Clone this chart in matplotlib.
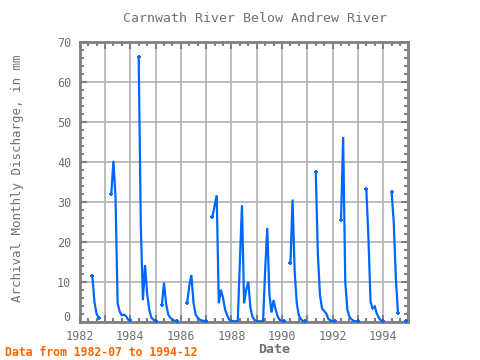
import matplotlib
matplotlib.use("Agg")
import matplotlib.pyplot as plt
from matplotlib.ticker import MultipleLocator, FuncFormatter
from matplotlib.transforms import blended_transform_factory

title = "Carnwath River Below Andrew River"
y_label = "Archival Monthly Discharge, in mm"
x_label = "Date"
note = "Data from 1982-07 to 1994-12"

# runs of consecutive monthly values (first month of each run)
run_starts = ["1982-07", "1983-04", "1984-05", "1985-04", "1986-04", "1987-04",
              "1990-05", "1991-05", "1992-05", "1993-05", "1994-05", "1994-12"]
run_1982 = [11.5, 5.0, 2.0, 1.0]
run_1983 = [32.0, 40.3, 31.3, 4.6, 2.5, 1.6, 1.75, 1.4, 0.5, 0.3]
run_1984 = [66.4, 24.0, 5.4, 14.2, 7.1, 3.0, 1.0, 0.5, 0.2]
run_1985 = [4.2, 9.8, 4.5, 1.8, 1.0, 0.5, 0.3, 0.1]
run_1986 = [4.8, 9.0, 11.7, 4.8, 1.8, 1.0, 0.5, 0.3, 0.2, 0.1]
run_1987_89 = [26.3, 29.0, 31.7, 4.6, 8.0, 6.0, 3.0, 1.6, 0.5, 0.2, 0.1, 0.1, 0.2,
               15.0, 29.2, 4.6, 8.0, 10.0, 3.5, 1.2, 0.4, 0.2, 0.1, 0.1, 0.1,
               13.0, 23.5, 7.0, 2.3, 5.4, 3.0, 1.2, 0.4, 0.2, 0.1]
run_1990 = [14.6, 30.6, 12.5, 4.6, 1.5, 0.6, 0.2, 0.1]
run_1991 = [37.6, 17.0, 6.7, 3.3, 2.7, 2.0, 0.7, 0.3, 0.1, 0.1]
run_1992 = [25.5, 46.3, 10.0, 3.0, 1.2, 0.6, 0.2, 0.1, 0.1]
run_1993 = [33.2, 21.0, 5.0, 3.3, 3.8, 2.0, 0.9, 0.3, 0.1]
run_1994 = [32.5, 25.0, 11.0, 2.3]
run_1994_end = [0.2]
runs = [run_1982, run_1983, run_1984, run_1985, run_1986, run_1987_89,
        run_1990, run_1991, run_1992, run_1993, run_1994, run_1994_end]

LINE = "#0066ff"
GRAY = "#808080"
TXT = "#707070"
MONO = "DejaVu Sans Mono"

fig = plt.figure(figsize=(4.8, 3.6), dpi=100)
ax = fig.add_axes([0.166, 0.1064, 0.685, 0.776])

for start, vals in zip(run_starts, runs):
    y0, m0 = int(start[:4]), int(start[5:7])
    t = [y0 + (m0 - 1 + i) / 12.0 for i in range(len(vals))]
    ax.plot(t, vals, color=LINE, lw=1.6, solid_joinstyle="miter", zorder=3)
    ax.plot([t[0], t[-1]], [vals[0], vals[-1]], ls="none", marker="+",
            ms=3, mew=1.3, color=LINE, zorder=4)

ax.set_xlim(1982, 1995)
ax.set_ylim(0, 70)
ax.xaxis.set_major_locator(MultipleLocator(1))
ax.xaxis.set_minor_locator(MultipleLocator(1 / 3))
ax.yaxis.set_major_locator(MultipleLocator(10))
ax.yaxis.set_minor_locator(MultipleLocator(2))
ax.xaxis.set_major_formatter(FuncFormatter(lambda v, p: "%d" % round(v) if round(v) % 2 == 0 and round(v) < 1995 else ""))
ax.yaxis.set_major_formatter(FuncFormatter(lambda v, p: "" if abs(v) < 1e-9 else "%d" % round(v)))

ax.grid(True, which="major", color="#b0b0b0", lw=1.2, zorder=0)
for s in ax.spines.values():
    s.set_color(GRAY)
    s.set_linewidth(2)
ax.tick_params(which="both", direction="in", top=True, right=True, color=GRAY, width=1.5)
ax.tick_params(which="major", length=5, labelsize=8.5, labelcolor=TXT, pad=6)
ax.tick_params(which="minor", length=3)
for lab in ax.get_xticklabels() + ax.get_yticklabels():
    lab.set_fontfamily(MONO)

# zero label drawn slightly above the axis line
tr = blended_transform_factory(ax.transAxes, ax.transData)
ax.annotate("0", xy=(0, 0), xycoords=tr, xytext=(-9, 4), textcoords="offset pixels",
            ha="right", va="center", fontsize=8.5, color=TXT, family=MONO)

fig.text(0.531, 0.948, title, ha="center", va="center", fontsize=9.5, color=TXT, family=MONO)
fig.text(0.571, 0.028, x_label, ha="center", va="center", fontsize=9.5, color=TXT,
         family=MONO, weight="bold")
fig.text(0.037, 0.505, y_label, ha="center", va="center", rotation=90, fontsize=9,
         color=TXT, family=MONO)
fig.text(0.01, 0.021, note, ha="left", va="center", fontsize=8.3, color="#ff6600",
         family=MONO, weight="bold")

fig.savefig("out.png", dpi=100)
